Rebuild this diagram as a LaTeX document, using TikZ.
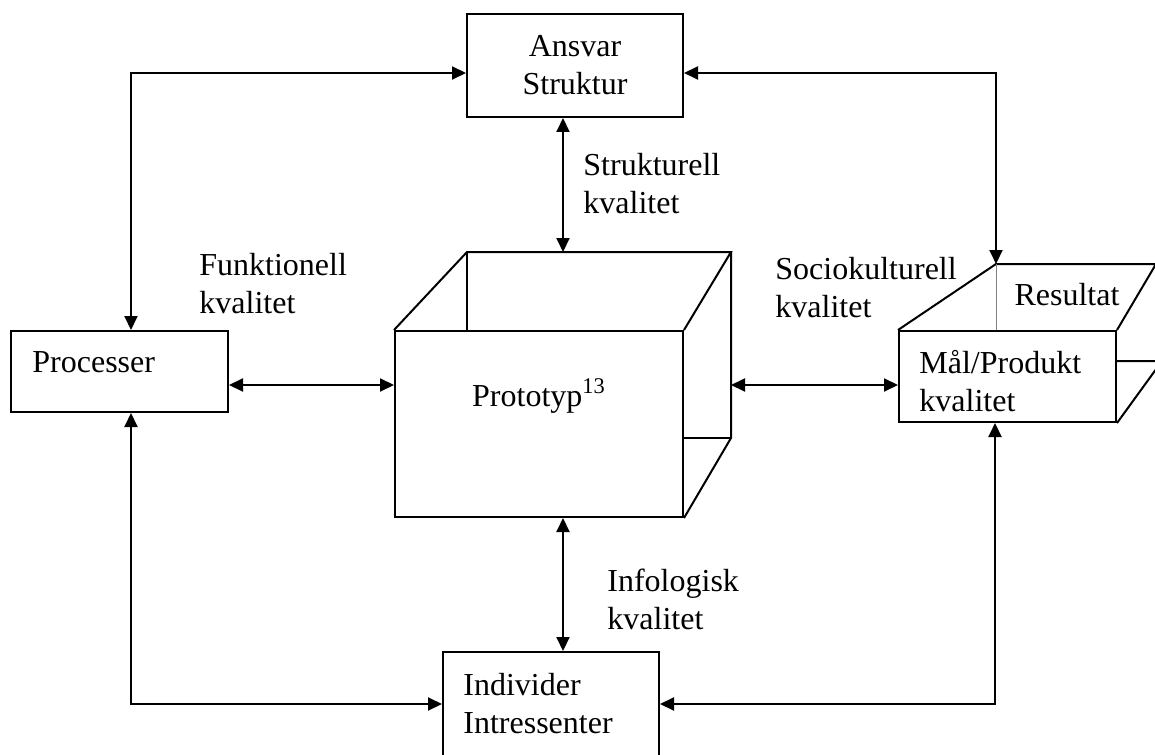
\documentclass[tikz,border=0pt]{standalone}
\usepackage{fontspec}
\setmainfont{Liberation Serif}
\usetikzlibrary{arrows.meta}
\tikzset{
    box/.style={draw,line width=1pt,inner sep=0pt},
    lbl/.style={anchor=west,inner sep=0pt,align=left},
    edge/.style={line width=1pt},
    dbl/.style={line width=1pt,{Triangle[length=7pt,width=6.5pt]}-{Triangle[length=7pt,width=6.5pt]}},
}

\begin{document}
\begin{tikzpicture}[x=0.5pt,y=-0.5pt,font=\fontsize{16}{19}\selectfont]
\useasboundingbox (0,0) rectangle (1155,754);
\clip (0,0) rectangle (1155,754);
% boxes
\node[box,minimum width=108pt,minimum height=51.5pt,align=center] (ansvar) at (575,65.5) {Ansvar\\Struktur};
\node[box,minimum width=108.5pt,minimum height=40.5pt] (proc) at (119.5,371.5) {};
\node[lbl] (proctxt) at (32,362) {Processer};
\node[box,minimum width=144pt,minimum height=93pt] (proto) at (539,424) {};
\node (prototxt) at (539,396) {Prototyp\textsuperscript{13}};
\node[box,minimum width=108.5pt,minimum height=45.5pt] (maal) at (1007.5,376.5) {};
\node[lbl] (maaltxt) at (919,381) {Mål/Produkt\\kvalitet};
\node[box,minimum width=108pt,minimum height=60pt] (indiv) at (551,712) {};
\node[lbl] (indivtxt) at (463,703.5) {Individer\\Intressenter};
% cube for the prototype
\coordinate (pbtl) at (467,252);
\coordinate (pbtr) at (731,252);
\coordinate (pbbr) at (731,438);
\draw[edge] (proto.north west) -- (pbtl) -- (pbtr) -- (proto.north east);
\draw[edge] (pbtl) -- (pbtl |- proto.north);
\draw[edge] (pbtr) -- (pbbr) -- (proto.south east);
\draw[edge] (pbbr) -- (proto.east |- pbbr);
% cube for the result
\coordinate (mbtl) at (996,264);
\coordinate (mbtr) at (1156,264);
\coordinate (mbbr) at (1162,361);
\draw[edge] (maal.north west) -- (mbtl) -- (mbtr) -- (maal.north east);
\draw[gray,line width=0.5pt] (mbtl) -- (mbtl |- maal.north);
\draw[edge] (maal.east |- mbbr) -- (mbbr) -- (maal.south east);
\node (resultat) at (1067,295) {Resultat};
% connectors
\draw[dbl] (ansvar.west |- 0,73) -| (proc.north -| 131,0);
\draw[dbl] (ansvar.east |- 0,73) -| (mbtl);
\draw[dbl] (ansvar.south -| 563,0) -- (pbtl -| 563,0);
\draw[dbl] (proc.east |- 0,385) -- (proto.west |- 0,385);
\draw[dbl] (pbtr |- 0,385) -- (maal.west |- 0,385);
\draw[dbl] (proto.south -| 563,0) -- (indiv.north -| 563,0);
\draw[dbl] (proc.south -| 131,0) |- (indiv.west |- 0,704);
\draw[dbl] (maal.south -| 995,0) |- (indiv.east |- 0,704);
% quality labels
\node[lbl] (struk) at (583,184) {Strukturell\\kvalitet};
\node[lbl] (funk) at (199,284) {Funktionell\\kvalitet};
\node[lbl] (socio) at (775,288) {Sociokulturell\\kvalitet};
\node[lbl] (info) at (607,599) {Infologisk\\kvalitet};
\end{tikzpicture}
\end{document}
